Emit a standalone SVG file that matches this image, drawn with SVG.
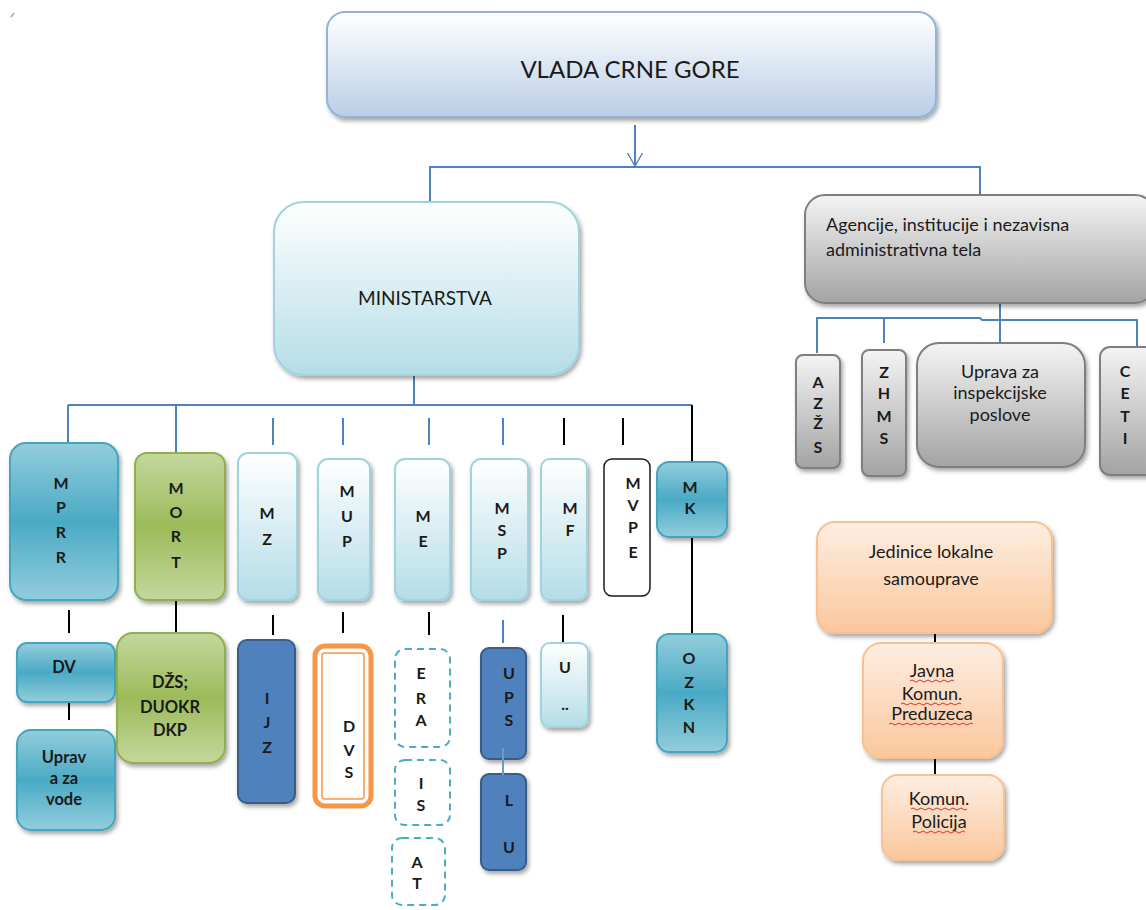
<svg xmlns="http://www.w3.org/2000/svg" width="1146" height="910" viewBox="0 0 1146 910">
<defs>
<linearGradient id="gVlada" x1="0" y1="0" x2="0" y2="1"><stop offset="0" stop-color="#ffffff"/><stop offset="0.5" stop-color="#dde7f3"/><stop offset="1" stop-color="#b9cde5"/></linearGradient>
<linearGradient id="gLight" x1="0" y1="0" x2="0" y2="1"><stop offset="0" stop-color="#ffffff"/><stop offset="1" stop-color="#b4dde7"/></linearGradient>
<linearGradient id="gTeal" x1="0" y1="0" x2="0" y2="1"><stop offset="0" stop-color="#93cddc"/><stop offset="0.5" stop-color="#4aaac5"/><stop offset="1" stop-color="#93cddc"/></linearGradient>
<linearGradient id="gGreen" x1="0" y1="0" x2="0" y2="1"><stop offset="0" stop-color="#c4d79d"/><stop offset="0.5" stop-color="#9cbb5a"/><stop offset="1" stop-color="#c4d79d"/></linearGradient>
<linearGradient id="gGray" x1="0" y1="0" x2="0" y2="1"><stop offset="0" stop-color="#f4f4f4"/><stop offset="1" stop-color="#a3a3a3"/></linearGradient>
<linearGradient id="gOrange" x1="0" y1="0" x2="0" y2="1"><stop offset="0" stop-color="#fdeee2"/><stop offset="1" stop-color="#fbc79c"/></linearGradient>
<filter id="sh" x="-20%" y="-20%" width="140%" height="140%"><feDropShadow dx="2" dy="3" stdDeviation="2" flood-color="#000" flood-opacity="0.35"/></filter>
<marker id="arr" viewBox="0 0 14 16" refX="13" refY="8" markerWidth="14" markerHeight="16" markerUnits="userSpaceOnUse" orient="auto"><path d="M0,0.5 L13,8 L0,15.5" fill="none" stroke="#4f81bd" stroke-width="1.3"/></marker>
</defs>
<style>
text{font-family:Lato,"Liberation Sans",sans-serif;fill:#1a1a1a;text-anchor:middle}
.l{font-size:18px}
.ch{font-size:16px;font-weight:bold}
.w{font-size:16.5px;font-weight:bold}
.bl{stroke:#4f81bd;stroke-width:2;fill:none}
.bk{stroke:#000;stroke-width:2;fill:none}
.vlada{fill:url(#gVlada);stroke:#95b3d7;stroke-width:2;filter:url(#sh)}
.light{fill:url(#gLight);stroke:#9fd3e0;stroke-width:2;filter:url(#sh)}
.teal{fill:url(#gTeal);stroke:#45a5bf;stroke-width:2;filter:url(#sh)}
.green{fill:url(#gGreen);stroke:#8fb04e;stroke-width:2;filter:url(#sh)}
.gray{fill:url(#gGray);stroke:#7f7f7f;stroke-width:2;filter:url(#sh)}
.orange{fill:url(#gOrange);stroke:#fac090;stroke-width:2;filter:url(#sh)}
.dblue{fill:#4f81bd;stroke:#385d8a;stroke-width:2;filter:url(#sh)}
.dash{fill:#fff;stroke:#4bacc6;stroke-width:2;stroke-dasharray:7 5}
.wavy{stroke:#e03030;stroke-width:1;fill:none}
</style>
<rect width="1146" height="910" fill="#fff"/>
<path d="M11,17 L14,13" stroke="#aaa" stroke-width="1.5"/>

<g id="connectors">
<line class="bl" x1="635" y1="125" x2="635" y2="166" marker-end="url(#arr)"/>
<path class="bl" d="M430,203 L430,167 L980,167 L980,195"/>
<line class="bl" x1="414" y1="375" x2="414" y2="405"/>
<line class="bl" x1="68" y1="405" x2="692" y2="405"/>
<line class="bl" x1="68" y1="405" x2="68" y2="443"/>
<line class="bl" x1="176" y1="405" x2="176" y2="453"/>
<line class="bl" x1="273" y1="418" x2="273" y2="445"/>
<line class="bl" x1="343" y1="418" x2="343" y2="445"/>
<line class="bl" x1="429" y1="418" x2="429" y2="445"/>
<line class="bl" x1="503" y1="418" x2="503" y2="445"/>
<line class="bk" x1="564" y1="418" x2="564" y2="445"/>
<line class="bk" x1="623" y1="418" x2="623" y2="445"/>
<line class="bk" x1="692" y1="405" x2="692" y2="634"/>
<line class="bk" x1="69" y1="610" x2="69" y2="633"/>
<line class="bk" x1="69" y1="698" x2="69" y2="720"/>
<line class="bk" x1="176" y1="600" x2="176" y2="633"/>
<line class="bk" x1="273" y1="615" x2="273" y2="635"/>
<line class="bk" x1="343" y1="612" x2="343" y2="633"/>
<line class="bk" x1="429" y1="612" x2="429" y2="635"/>
<line class="bl" x1="503" y1="620" x2="503" y2="643"/>
<line class="bk" x1="563" y1="615" x2="563" y2="643"/>
<path class="bl" d="M817,353 L817,318 L980,318 L982,320 L1137,320 L1137,348"/>
<line class="bl" x1="884" y1="318" x2="884" y2="343"/>
<line class="bl" x1="1000" y1="303" x2="1000" y2="350"/>
<line class="bk" x1="935" y1="622" x2="935" y2="643"/>
<line class="bk" x1="935" y1="755" x2="935" y2="775"/>
</g>

<g id="vlada"><rect class="vlada" x="327" y="12" width="609" height="105" rx="18"/><text x="630" y="78" style="font-size:24px">VLADA CRNE GORE</text></g>

<g id="ministarstva"><rect class="light" x="274" y="202" width="305" height="173" rx="30"/><text x="425" y="305" style="font-size:19px">MINISTARSTVA</text></g>

<g id="agencije"><rect class="gray" x="805" y="195" width="350" height="108" rx="20"/><text class="l" x="826" y="231" style="text-anchor:start">Agencije, institucije i nezavisna</text><text class="l" x="826" y="256" style="text-anchor:start">administrativna tela</text></g>

<g id="mprr"><rect class="teal" x="10" y="443" width="108" height="157" rx="16"/><text class="ch" x="61" y="489">M</text><text class="ch" x="61" y="513">P</text><text class="ch" x="61" y="538">R</text><text class="ch" x="61" y="563">R</text></g>
<g id="mort"><rect class="green" x="135" y="453" width="90" height="147" rx="12"/><text class="ch" x="176" y="494">M</text><text class="ch" x="176" y="518">O</text><text class="ch" x="176" y="542">R</text><text class="ch" x="176" y="568">T</text></g>
<g id="mz"><rect class="light" x="238" y="453" width="59" height="147" rx="10"/><text class="ch" x="267" y="519">M</text><text class="ch" x="267" y="545">Z</text></g>
<g id="mup"><rect class="light" x="318" y="459" width="52" height="141" rx="10"/><text class="ch" x="347" y="497">M</text><text class="ch" x="347" y="522">U</text><text class="ch" x="347" y="547">P</text></g>
<g id="me"><rect class="light" x="395" y="459" width="55" height="141" rx="10"/><text class="ch" x="423" y="522">M</text><text class="ch" x="423" y="547">E</text></g>
<g id="msp"><rect class="light" x="471" y="459" width="57" height="141" rx="10"/><text class="ch" x="502" y="514">M</text><text class="ch" x="502" y="536">S</text><text class="ch" x="502" y="559">P</text></g>
<g id="mf"><rect class="light" x="541" y="459" width="46" height="141" rx="9"/><text class="ch" x="570" y="514">M</text><text class="ch" x="570" y="536">F</text></g>
<g id="mvpe"><rect x="604" y="459" width="46" height="137" rx="8" fill="#fff" stroke="#1a1a1a" stroke-width="1.5"/><text class="ch" x="633" y="489">M</text><text class="ch" x="633" y="511">V</text><text class="ch" x="633" y="533">P</text><text class="ch" x="633" y="558">E</text></g>
<g id="mk"><rect class="teal" x="657" y="462" width="70" height="75" rx="12"/><text class="ch" x="690" y="493">M</text><text class="ch" x="690" y="514">K</text></g>

<g id="dv"><rect class="teal" x="17" y="643" width="98" height="59" rx="10"/><text class="w" x="64" y="673">DV</text></g>
<g id="uprav-vode"><rect class="teal" x="17" y="730" width="98" height="100" rx="14"/><text class="w" x="64" y="763">Uprav</text><text class="w" x="64" y="784">a za</text><text class="w" x="64" y="805">vode</text></g>
<g id="dzs"><rect class="green" x="117" y="633" width="108" height="130" rx="16"/><text class="w" x="170" y="688">DŽS;</text><text class="w" x="170" y="713">DUOKR</text><text class="w" x="170" y="736">DKP</text></g>
<g id="ijz"><rect class="dblue" x="238" y="640" width="57" height="163" rx="9"/><text class="ch" x="267" y="704">I</text><text class="ch" x="267" y="728">J</text><text class="ch" x="267" y="753">Z</text></g>
<g id="dvs"><rect x="315" y="646" width="56" height="160" rx="10" fill="#fff" stroke="#f79646" stroke-width="5"/><rect x="322" y="653" width="42" height="146" rx="3" fill="none" stroke="#f79646" stroke-width="1.5"/><text class="ch" x="349" y="732">D</text><text class="ch" x="349" y="756">V</text><text class="ch" x="349" y="778">S</text></g>
<g id="era"><rect class="dash" x="395" y="649" width="55" height="98" rx="10"/><text class="ch" x="421" y="679">E</text><text class="ch" x="421" y="704">R</text><text class="ch" x="421" y="726">A</text></g>
<g id="is"><rect class="dash" x="395" y="760" width="55" height="65" rx="10"/><text class="ch" x="421" y="789">I</text><text class="ch" x="421" y="811">S</text></g>
<g id="at"><rect class="dash" x="392" y="838" width="53" height="67" rx="10"/><text class="ch" x="417" y="868">A</text><text class="ch" x="417" y="889">T</text></g>
<g id="ups"><rect class="dblue" x="481" y="648" width="45" height="111" rx="8"/><text class="ch" x="509" y="679">U</text><text class="ch" x="509" y="703">P</text><text class="ch" x="509" y="726">S</text></g>
<g id="lu"><rect class="dblue" x="481" y="774" width="45" height="96" rx="8"/><line x1="503" y1="748" x2="503" y2="775" stroke="#6f97c8" stroke-width="2"/><text class="ch" x="509" y="806">L</text><text class="ch" x="509" y="853">U</text></g>
<g id="u"><rect class="light" x="541" y="643" width="47" height="84" rx="9"/><text class="ch" x="565" y="673">U</text><text class="ch" x="565" y="710">..</text></g>
<g id="ozkn"><rect class="teal" x="657" y="634" width="70" height="118" rx="12"/><text class="ch" x="689" y="664">O</text><text class="ch" x="689" y="688">Z</text><text class="ch" x="689" y="710">K</text><text class="ch" x="689" y="733">N</text></g>

<g id="azzs"><rect class="gray" x="796" y="355" width="44" height="113" rx="7"/><text class="ch" x="818" y="388">A</text><text class="ch" x="818" y="409">Z</text><text class="ch" x="818" y="429">Ž</text><text class="ch" x="818" y="453">S</text></g>
<g id="zhms"><rect class="gray" x="862" y="350" width="44" height="126" rx="7"/><text class="ch" x="884" y="378">Z</text><text class="ch" x="884" y="399">H</text><text class="ch" x="884" y="422">M</text><text class="ch" x="884" y="444">S</text></g>
<g id="uprava-insp"><rect class="gray" x="917" y="343" width="168" height="124" rx="22"/><text class="l" x="1000" y="378">Uprava za</text><text class="l" x="1000" y="399">inspekcijske</text><text class="l" x="1000" y="421">poslove</text></g>
<g id="ceti"><rect class="gray" x="1100" y="347" width="60" height="128" rx="10"/><text class="ch" x="1125" y="377">C</text><text class="ch" x="1125" y="399">E</text><text class="ch" x="1125" y="422">T</text><text class="ch" x="1125" y="444">I</text></g>

<g id="jedinice"><rect class="orange" x="817" y="522" width="235" height="111" rx="18"/><text class="l" x="931" y="558">Jedinice lokalne</text><text class="l" x="931" y="585">samouprave</text></g>
<g id="javna"><rect class="orange" x="863" y="643" width="140" height="115" rx="18"/><text class="l" x="932" y="677">Javna</text><text class="l" x="932" y="700">Komun.</text><text class="l" x="932" y="720">Preduzeca</text>
<path class="wavy" d="M910,681 q2,-2 4,0 t4,0 t4,0 t4,0 t4,0 t4,0 t4,0 t4,0 t4,0 t4,0 t4,0"/>
<path class="wavy" d="M901,704 q2,-2 4,0 t4,0 t4,0 t4,0 t4,0 t4,0 t4,0 t4,0 t4,0 t4,0 t4,0 t4,0 t4,0 t4,0 t4,0"/>
<path class="wavy" d="M889,724 q2,-2 4,0 t4,0 t4,0 t4,0 t4,0 t4,0 t4,0 t4,0 t4,0 t4,0 t4,0 t4,0 t4,0 t4,0 t4,0 t4,0 t4,0 t4,0 t4,0 t4,0 t4,0"/></g>
<g id="policija"><rect class="orange" x="882" y="775" width="122" height="85" rx="16"/><text class="l" x="939" y="805">Komun.</text><text class="l" x="939" y="828">Policija</text>
<path class="wavy" d="M911,809 q2,-2 4,0 t4,0 t4,0 t4,0 t4,0 t4,0 t4,0 t4,0 t4,0 t4,0 t4,0 t4,0 t4,0 t4,0"/>
<path class="wavy" d="M913,832 q2,-2 4,0 t4,0 t4,0 t4,0 t4,0 t4,0 t4,0 t4,0 t4,0 t4,0 t4,0 t4,0 t4,0"/></g>
</svg>
